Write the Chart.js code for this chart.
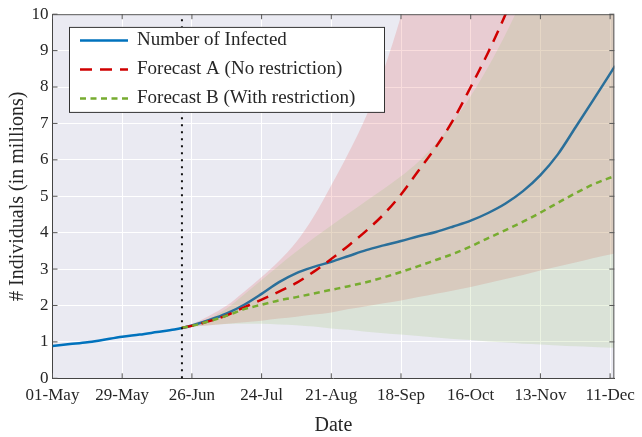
<!DOCTYPE html>
<html>
<head>
<meta charset="utf-8">
<title>Infection forecast</title>
<script src="https://cdn.jsdelivr.net/npm/chart.js"></script>
<style>
    body {
        margin: 0;
        background: #ffffff;
    }
    #chart {
        display: block;
    }
</style>
</head>
<body>
<canvas id="chart" width="642" height="437"></canvas>
<script>
// days counted from 01-May
const tickDays = [0, 28, 56, 84, 112, 140, 168, 196, 224];
const tickLabels = ['01-May', '29-May', '26-Jun', '24-Jul', '21-Aug', '18-Sep', '16-Oct', '13-Nov', '11-Dec'];
const xMax = 225.7;
const splitDay = 52;

const infectedDays = [0, 7, 14, 19, 28, 35, 42, 49, 52, 56, 63, 70, 77, 84, 91, 98, 105, 112, 119, 126, 133, 140, 147, 154, 161, 168, 175, 182, 189, 196, 203, 210, 217, 226];
const infected = [0.89, 0.94, 0.99, 1.04, 1.14, 1.2, 1.27, 1.34, 1.38, 1.45, 1.6, 1.78, 2.02, 2.32, 2.64, 2.89, 3.06, 3.2, 3.36, 3.52, 3.65, 3.77, 3.9, 4.02, 4.17, 4.33, 4.54, 4.8, 5.14, 5.58, 6.15, 6.88, 7.62, 8.58];

const forecastDays = [52, 56, 63, 70, 77, 84, 91, 98, 105, 112, 119, 126, 133, 140, 147, 154, 161, 168, 175, 182, 189, 196, 203, 210, 217, 226];
const forecastA = [1.39, 1.44, 1.57, 1.73, 1.95, 2.16, 2.38, 2.62, 2.93, 3.28, 3.65, 4.05, 4.5, 5.05, 5.7, 6.35, 7.1, 8.0, 8.95, 10.0, 11.2];
const forecastB = [1.39, 1.44, 1.57, 1.72, 1.9, 2.02, 2.14, 2.23, 2.33, 2.43, 2.53, 2.64, 2.77, 2.92, 3.08, 3.25, 3.42, 3.62, 3.85, 4.07, 4.3, 4.55, 4.82, 5.08, 5.32, 5.56];

// uncertainty bands
const bandALow = [1.39, 1.42, 1.46, 1.5, 1.54, 1.58, 1.64, 1.69, 1.75, 1.81, 1.9, 1.98, 2.06, 2.14, 2.23, 2.32, 2.41, 2.51, 2.62, 2.73, 2.84, 2.96, 3.07, 3.18, 3.3, 3.43];
const bandAHigh = [1.39, 1.49, 1.72, 2.0, 2.38, 2.78, 3.22, 3.75, 4.45, 5.3, 6.2, 7.2, 8.45, 9.95, 11.7, 13.7, 16, 18.6, 21.5, 24.7, 28, 31.5, 35, 39, 43, 48];
const bandBLow = [1.39, 1.42, 1.46, 1.49, 1.5, 1.5, 1.48, 1.46, 1.42, 1.37, 1.33, 1.28, 1.24, 1.2, 1.16, 1.12, 1.08, 1.05, 1.01, 0.98, 0.95, 0.93, 0.9, 0.88, 0.86, 0.84];
const bandBHigh = [1.39, 1.47, 1.65, 1.92, 2.3, 2.7, 3.1, 3.48, 3.85, 4.2, 4.53, 4.87, 5.2, 5.55, 5.95, 6.45, 7.05, 7.75, 8.55, 9.45, 10.45, 11.5, 12.7, 14, 15.4, 17.2];

const serif = '"Liberation Serif", "Times New Roman", serif';
const textColor = '#262626';
const blueBefore = '#0072bd';
const blueAfter = '#2a6f9a';

function points(days, vals) {
    return vals.map((v, i) => ({ x: days[i], y: v }));
}

function band(vals, fill, color) {
    return {
        label: '',
        data: points(forecastDays, vals),
        borderWidth: 0,
        borderColor: 'rgba(0,0,0,0)',
        backgroundColor: color,
        fill: fill,
        pointRadius: 0,
        cubicInterpolationMode: 'monotone'
    };
}

const framePlugin = {
    id: 'frame',
    beforeDraw(chart) {
        const { ctx, chartArea: a } = chart;
        ctx.save();
        ctx.fillStyle = '#eaeaf2';
        ctx.fillRect(a.left, a.top, a.width, a.height);
        ctx.restore();
    },
    afterDatasetsDraw(chart) {
        const { ctx, chartArea: a, scales } = chart;
        ctx.save();

        // dotted line at start of forecast
        const sx = scales.x.getPixelForValue(splitDay);
        ctx.strokeStyle = '#111';
        ctx.lineWidth = 2;
        ctx.setLineDash([2, 5]);
        ctx.beginPath();
        ctx.moveTo(sx, a.bottom);
        ctx.lineTo(sx, a.top);
        ctx.stroke();
        ctx.setLineDash([]);

        // top/right border and inner tick marks
        ctx.strokeStyle = '#555';
        ctx.lineWidth = 1;
        ctx.beginPath();
        ctx.moveTo(a.left, a.top + 0.5);
        ctx.lineTo(a.right - 0.5, a.top + 0.5);
        ctx.lineTo(a.right - 0.5, a.bottom);
        scales.x.ticks.forEach(t => {
            const px = scales.x.getPixelForValue(t.value);
            ctx.moveTo(px, a.bottom);
            ctx.lineTo(px, a.bottom - 5);
            ctx.moveTo(px, a.top);
            ctx.lineTo(px, a.top + 5);
        });
        scales.y.ticks.forEach(t => {
            const py = scales.y.getPixelForValue(t.value);
            ctx.moveTo(a.left, py);
            ctx.lineTo(a.left + 5, py);
            ctx.moveTo(a.right, py);
            ctx.lineTo(a.right - 5, py);
        });
        ctx.stroke();

        // legend
        const bx = a.left + 16.5, by = a.top + 12.7;
        ctx.fillStyle = '#ffffff';
        ctx.fillRect(bx, by, 315, 85);
        ctx.strokeStyle = '#333';
        ctx.strokeRect(bx + 0.5, by + 0.5, 315, 85);
        const order = ['Number of Infected', 'Forecast A (No restriction)', 'Forecast B (With restriction)'];
        ctx.font = '19px ' + serif;
        ctx.textBaseline = 'middle';
        order.forEach((name, i) => {
            const ds = chart.data.datasets.find(d => d.label === name);
            const ry = by + 13.5 + i * 29;
            ctx.strokeStyle = ds.legendColor || ds.borderColor;
            ctx.lineWidth = ds.borderWidth;
            ctx.setLineDash(ds.borderDash || []);
            ctx.beginPath();
            ctx.moveTo(bx + 11, ry);
            ctx.lineTo(bx + 59, ry);
            ctx.stroke();
            ctx.setLineDash([]);
            ctx.fillStyle = textColor;
            ctx.fillText(name, bx + 68, ry);
        });
        ctx.restore();
    }
};

new Chart(document.getElementById('chart'), {
    type: 'line',
    data: {
        datasets: [
            {
                label: 'Forecast B (With restriction)',
                data: points(forecastDays, forecastB),
                borderColor: '#77ac30',
                borderWidth: 2.5,
                borderDash: [6, 4.5],
                pointRadius: 0,
                fill: false,
                cubicInterpolationMode: 'monotone'
            },
            {
                label: 'Forecast A (No restriction)',
                data: points(forecastDays, forecastA),
                borderColor: '#d00000',
                borderWidth: 2.5,
                borderDash: [12, 8],
                pointRadius: 0,
                fill: false,
                cubicInterpolationMode: 'monotone'
            },
            {
                label: 'Number of Infected',
                data: points(infectedDays, infected),
                borderColor: blueBefore,
                legendColor: blueBefore,
                borderWidth: 2.5,
                pointRadius: 0,
                fill: false,
                cubicInterpolationMode: 'monotone',
                segment: {
                    borderColor: c => c.p0.parsed.x >= splitDay ? blueAfter : blueBefore
                }
            },
            band(bandBLow, false, 'rgba(0,0,0,0)'),
            band(bandBHigh, '-1', 'rgba(154,194,112,0.2)'),
            band(bandALow, false, 'rgba(0,0,0,0)'),
            band(bandAHigh, '-1', 'rgba(224,84,87,0.2)')
        ]
    },
    options: {
        responsive: false,
        animation: false,
        events: [],
        layout: {
            padding: { top: 13.3, right: 25.3, left: 0, bottom: 0 }
        },
        plugins: {
            legend: { display: false },
            tooltip: { enabled: false }
        },
        scales: {
            x: {
                type: 'linear',
                min: 0,
                max: xMax,
                afterBuildTicks: s => { s.ticks = tickDays.map(v => ({ value: v })); },
                afterFit: s => { s.height = 58.7; },
                ticks: {
                    callback: (v, i) => tickLabels[i],
                    font: { family: serif, size: 17 },
                    color: textColor,
                    padding: 7,
                    maxRotation: 0,
                    autoSkip: false
                },
                grid: { color: '#ffffff', lineWidth: 1, drawTicks: false },
                border: { display: true, color: '#444', width: 1 },
                title: {
                    display: true,
                    text: 'Date',
                    font: { family: serif, size: 20, lineHeight: 1.1 },
                    color: textColor,
                    padding: 0
                }
            },
            y: {
                min: 0,
                max: 10,
                afterFit: s => { s.width = 52.5; },
                ticks: {
                    stepSize: 1,
                    font: { family: serif, size: 17 },
                    color: textColor,
                    padding: 4
                },
                grid: { color: '#ffffff', lineWidth: 1, drawTicks: false },
                border: { display: true, color: '#444', width: 1 },
                title: {
                    display: true,
                    text: '# Individuals (in millions)',
                    font: { family: serif, size: 20, lineHeight: 1.1 },
                    color: textColor,
                    padding: { top: 7, bottom: 0 }
                }
            }
        }
    },
    plugins: [framePlugin]
});
</script>
</body>
</html>
